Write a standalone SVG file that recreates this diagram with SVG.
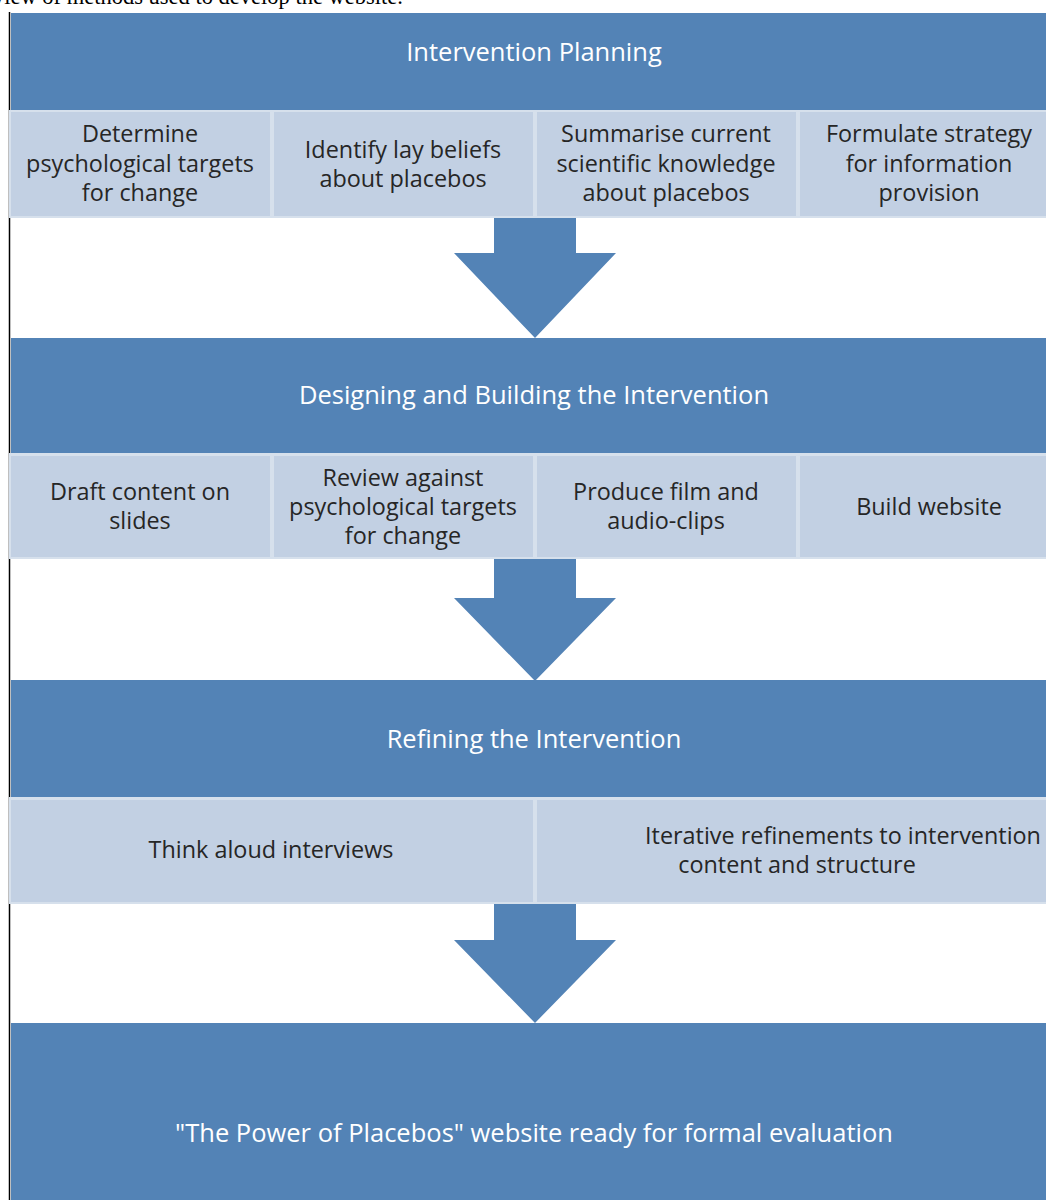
<svg xmlns="http://www.w3.org/2000/svg" width="1046" height="1200" viewBox="0 0 1046 1200">
<style>
.hdr{fill:#5383b6}
.cell{fill:#c2d0e3}
.sep{fill:#d6e0ec}
.arrow{fill:#5383b6}
.ht{font-family:"Open Sans","Noto Sans",sans-serif;font-size:25.5px;fill:#ffffff;text-anchor:middle}
.ct{font-family:"Open Sans","Noto Sans",sans-serif;font-size:23.4px;fill:#262626;text-anchor:middle}
.cap{font-family:"Liberation Serif",serif;font-size:22.5px;fill:#000}
</style>
<rect width="1046" height="1200" fill="#ffffff"/>
<text class="cap" x="-7" y="4">view of methods used to develop the website.</text>
<line x1="9.5" y1="12" x2="9.5" y2="1200" stroke="#000" stroke-width="1.5"/>

<g id="connectors">
<polygon class="arrow" points="494,217 576,217 576,253 616,253 535,338 454,253 494,253"/>
<polygon class="arrow" points="494,558 576,558 576,598 616,598 535,681 454,598 494,598"/>
<polygon class="arrow" points="494,903 576,903 576,940 616,940 535,1023 454,940 494,940"/>
</g>

<g id="stage1">
<rect class="hdr" x="11" y="13" width="1035" height="97"/>
<text class="ht" x="534" y="61">Intervention Planning</text>
</g>
<g id="row1">
<rect class="sep" x="9" y="110" width="1037" height="108"/>
<g id="r1c1"><rect class="cell" x="11" y="112" width="259" height="104"/>
<text class="ct" x="140" y="142">Determine</text><text class="ct" x="140" y="172">psychological targets</text><text class="ct" x="140" y="201">for change</text></g>
<g id="r1c2"><rect class="cell" x="274" y="112" width="259" height="104"/>
<text class="ct" x="403" y="158">Identify lay beliefs</text><text class="ct" x="403" y="187">about placebos</text></g>
<g id="r1c3"><rect class="cell" x="537" y="112" width="259" height="104"/>
<text class="ct" x="666" y="142">Summarise current</text><text class="ct" x="666" y="172">scientific knowledge</text><text class="ct" x="666" y="201">about placebos</text></g>
<g id="r1c4"><rect class="cell" x="800" y="112" width="246" height="104"/>
<text class="ct" x="929" y="142">Formulate strategy</text><text class="ct" x="929" y="172">for information</text><text class="ct" x="929" y="201">provision</text></g>
</g>

<g id="stage2">
<rect class="hdr" x="11" y="338" width="1035" height="115"/>
<text class="ht" x="534" y="404">Designing and Building the Intervention</text>
</g>
<g id="row2">
<rect class="sep" x="9" y="453" width="1037" height="106"/>
<g id="r2c1"><rect class="cell" x="11" y="456" width="259" height="101"/>
<text class="ct" x="140" y="500">Draft content on</text><text class="ct" x="140" y="529">slides</text></g>
<g id="r2c2"><rect class="cell" x="274" y="456" width="259" height="101"/>
<text class="ct" x="403" y="486">Review against</text><text class="ct" x="403" y="515">psychological targets</text><text class="ct" x="403" y="544">for change</text></g>
<g id="r2c3"><rect class="cell" x="537" y="456" width="259" height="101"/>
<text class="ct" x="666" y="500">Produce film and</text><text class="ct" x="666" y="529">audio-clips</text></g>
<g id="r2c4"><rect class="cell" x="800" y="456" width="246" height="101"/>
<text class="ct" x="929" y="515">Build website</text></g>
</g>

<g id="stage3">
<rect class="hdr" x="11" y="680" width="1035" height="117"/>
<text class="ht" x="534" y="748">Refining the Intervention</text>
</g>
<g id="row3">
<rect class="sep" x="9" y="797" width="1037" height="107"/>
<g id="r3c1"><rect class="cell" x="11" y="800" width="522" height="102"/>
<text class="ct" x="271" y="858">Think aloud interviews</text></g>
<g id="r3c2"><rect class="cell" x="537" y="800" width="509" height="102"/>
<text class="ct" x="843" y="844">Iterative refinements to intervention</text><text class="ct" x="797" y="873">content and structure</text></g>
</g>

<g id="stage4">
<rect class="hdr" x="11" y="1023" width="1035" height="177"/>
<text class="ht" x="534" y="1142">"The Power of Placebos" website ready for formal evaluation</text>
</g>
</svg>
